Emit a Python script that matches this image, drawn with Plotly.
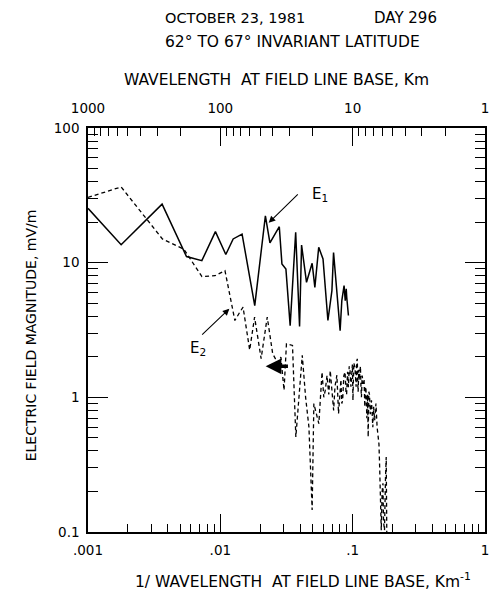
import math
import plotly.graph_objects as go

# ---- data ----
e1_x = [0.001, 0.00178, 0.00363, 0.00555, 0.00725, 0.00918, 0.0110, 0.0125, 0.0146, 0.0182,
        0.0219, 0.0237, 0.0279, 0.0292, 0.0313, 0.0337, 0.0371, 0.0397, 0.0411, 0.0448,
        0.0494, 0.0518, 0.0554, 0.0597, 0.065, 0.0697, 0.0717, 0.0751, 0.0804, 0.0828,
        0.0861, 0.0879, 0.0894, 0.0902, 0.0929]
e1_y = [25.3, 13.6, 27.2, 11.1, 10.35, 17.0, 11.5, 15.0, 16.3, 4.8,
        22.3, 14.0, 18.5, 9.8, 8.98, 3.41, 16.8, 3.36, 13.5, 7.15,
        9.9, 6.56, 13.0, 10.65, 3.72, 6.2, 11.9, 7.14, 3.13, 5.23,
        6.76, 5.23, 6.4, 5.53, 4.05]

e2_x = [0.001, 0.00178, 0.00365, 0.0053, 0.00726, 0.00912, 0.01084, 0.01209, 0.01288, 0.01403,
        0.01485, 0.01666, 0.01815, 0.02033, 0.02262, 0.02486, 0.0271, 0.02868, 0.0303, 0.0316,
        0.0351, 0.0372, 0.0416, 0.0441, 0.0467, 0.0494, 0.0509, 0.0555,
        0.0587, 0.0605, 0.0621, 0.064, 0.0660, 0.0677, 0.0695, 0.0718, 0.0735, 0.076,
        0.0782, 0.080, 0.0815, 0.0828, 0.084, 0.0858, 0.0876, 0.089, 0.0900, 0.0915,
        0.0929, 0.0942, 0.0955, 0.097, 0.0983, 0.0995, 0.1005, 0.102, 0.104, 0.1052,
        0.1062, 0.1073, 0.1084, 0.1092, 0.110, 0.1112, 0.1122, 0.1135, 0.1145, 0.1155,
        0.1165, 0.118, 0.1202, 0.122, 0.1235, 0.125, 0.126, 0.127, 0.128, 0.1295,
        0.131, 0.1325, 0.134, 0.136, 0.1387, 0.140, 0.142, 0.144, 0.1466, 0.1485,
        0.150, 0.153, 0.1556, 0.158, 0.160, 0.162, 0.1645, 0.167, 0.1694, 0.171,
        0.174, 0.177, 0.1793, 0.181]
e2_y = [30.5, 36.5, 15.0, 12.6, 7.87, 8.0, 8.73, 5.23, 3.72, 4.29,
        4.67, 2.25, 3.94, 1.94, 3.94, 2.11, 1.80, 1.99, 1.13, 2.5,
        2.43, 0.508, 2.05, 1.0, 0.603, 0.146, 0.898, 0.638,
        1.54, 1.0, 1.13, 1.45, 1.05, 1.58, 1.1, 0.80, 1.2, 1.46,
        0.757, 1.2, 1.35, 0.9, 0.95, 1.45, 1.54, 1.1, 1.05, 1.55,
        1.19, 1.7, 1.6, 1.2, 1.50, 1.75, 0.95, 1.8, 1.68, 1.3,
        1.2, 1.85, 1.93, 1.3, 1.1, 1.6, 1.34, 1.55, 1.7, 1.2,
        1.0, 1.45, 1.26, 1.35, 0.85, 1.2, 1.15, 0.9, 0.7, 1.05,
        0.508, 1.1, 1.05, 0.75, 0.95, 0.8, 0.6, 0.85, 0.676, 0.8,
        0.9, 0.6, 0.538, 0.45, 0.3, 0.18, 0.103, 0.2, 0.23, 0.12,
        0.103, 0.25, 0.361, 0.1]

x_major = [0.001, 0.01, 0.1, 1]
x_labels = [".001", ".01", ".1", "1"]
y_major = [0.1, 1, 10, 100]
y_labels = ["0.1", "1", "10", "100"]
wl_major = [1000, 100, 10, 1]
wl_labels = ["1000", "100", "10", "1"]

x_minor = [m * d for d in [0.001, 0.01, 0.1] for m in range(2, 10)]
y_minor = [m * d for d in [0.1, 1, 10] for m in range(2, 10)]
wl_minor = [m * d for d in [100, 10, 1] for m in range(2, 10)]

FONT = "DejaVu Sans"
fs = 13.5
NB = "\u00a0"

fig = go.Figure()
fig.add_trace(go.Scatter(x=e1_x, y=e1_y, mode="lines",
                         line=dict(color="black", width=1.5), showlegend=False, hoverinfo="skip"))
fig.add_trace(go.Scatter(x=e2_x, y=e2_y, mode="lines",
                         line=dict(color="black", width=1.3, dash="4px,3px"), showlegend=False, hoverinfo="skip"))
# invisible trace to anchor the top (wavelength) axis
fig.add_trace(go.Scatter(x=[1.0 / w for w in wl_major], y=[1, 1, 1, 1], xaxis="x2", mode="markers",
                         marker=dict(opacity=0), showlegend=False, hoverinfo="skip"))

axis_common = dict(showgrid=False, zeroline=False, showline=True, linecolor="black", linewidth=1.5,
                   ticks="inside", tickcolor="black", tickwidth=1.2,
                   tickfont=dict(family=FONT, size=fs, color="black"))

fig.update_layout(
    width=493, height=591,
    margin=dict(l=88, r=4, t=128, b=59),
    paper_bgcolor="white", plot_bgcolor="white",
    xaxis=dict(type="log", range=[-3, 0], tickmode="array", tickvals=x_major, ticktext=x_labels,
               ticklen=18, mirror=False, ticklabelstandoff=5,
               minor=dict(tickmode="array", tickvals=x_minor, ticklen=8, tickcolor="black", tickwidth=1.2, ticks="inside"),
               **axis_common),
    xaxis2=dict(type="log", range=[-3, 0], overlaying="x", side="top", anchor="y",
                tickmode="array", tickvals=[1.0 / w for w in wl_major], ticktext=wl_labels, ticklen=18,
                ticklabelstandoff=8,
                minor=dict(tickmode="array", tickvals=[1.0 / w for w in wl_minor], ticklen=8,
                           tickcolor="black", tickwidth=1.2, ticks="inside"),
                **axis_common),
    yaxis=dict(type="log", range=[-1, 2], tickmode="array", tickvals=y_major, ticktext=y_labels,
               ticklen=20, mirror="ticks", ticklabelstandoff=4,
               minor=dict(tickmode="array", tickvals=y_minor, ticklen=10, tickcolor="black", tickwidth=1.2, ticks="inside"),
               **axis_common),
)

def ptxt(text, x, y, xanchor="center", size=fs, angle=0):
    fig.add_annotation(text=text, x=x, y=y, xref="paper", yref="paper", showarrow=False,
                       xanchor=xanchor, yanchor="middle", textangle=angle,
                       font=dict(family=FONT, size=size, color="black"))

ptxt("OCTOBER 23, 1981", 0.19, 1.272, xanchor="left", size=14.5)
ptxt("DAY 296", 0.883, 1.272, xanchor="right", size=15)
ptxt("62°" + NB + "TO" + NB + "67°" + NB + "INVARIANT LATITUDE", 0.19, 1.213, xanchor="left", size=15.5)
ptxt("WAVELENGTH" + NB + NB + "AT FIELD LINE BASE, Km", 0.474, 1.119, size=15.5)
ptxt("1/" + NB + "WAVELENGTH" + NB + NB + "AT FIELD LINE BASE, Km<sup>-1</sup>", 0.541, -0.119, size=15.5)
ptxt("ELECTRIC FIELD MAGNITUDE, mV/m", -0.145, 0.488, size=14, angle=-90)

# curve labels with arrows (annotation positions on log axes are log10 values)
L = math.log10
fig.add_annotation(x=L(0.0232), y=L(19.8), ax=L(0.0395), ay=L(33.0), xref="x", yref="y",
                   axref="x", ayref="y", text="", showarrow=True, arrowhead=2, arrowsize=1.2,
                   arrowwidth=1.1, arrowcolor="black")
fig.add_annotation(x=L(0.048), y=L(32.0), xref="x", yref="y", text="E<sub>1</sub>", showarrow=False,
                   xanchor="left", font=dict(family=FONT, size=15, color="black"))
fig.add_annotation(x=L(0.0117), y=L(4.55), ax=L(0.0071), ay=L(2.85), xref="x", yref="y",
                   axref="x", ayref="y", text="", showarrow=True, arrowhead=2, arrowsize=1.2,
                   arrowwidth=1.1, arrowcolor="black")
fig.add_annotation(x=L(0.0068), y=L(2.3), xref="x", yref="y", text="E<sub>2</sub>", showarrow=False,
                   xanchor="center", font=dict(family=FONT, size=15, color="black"))
# ink blot on the E2 trace
fig.add_annotation(x=L(0.022), y=L(1.70), ax=L(0.0333), ay=L(1.70), xref="x", yref="y",
                   axref="x", ayref="y", text="", showarrow=True, arrowhead=2, arrowsize=0.9,
                   arrowwidth=3.5, arrowcolor="black")

fig.write_html("out.html")
